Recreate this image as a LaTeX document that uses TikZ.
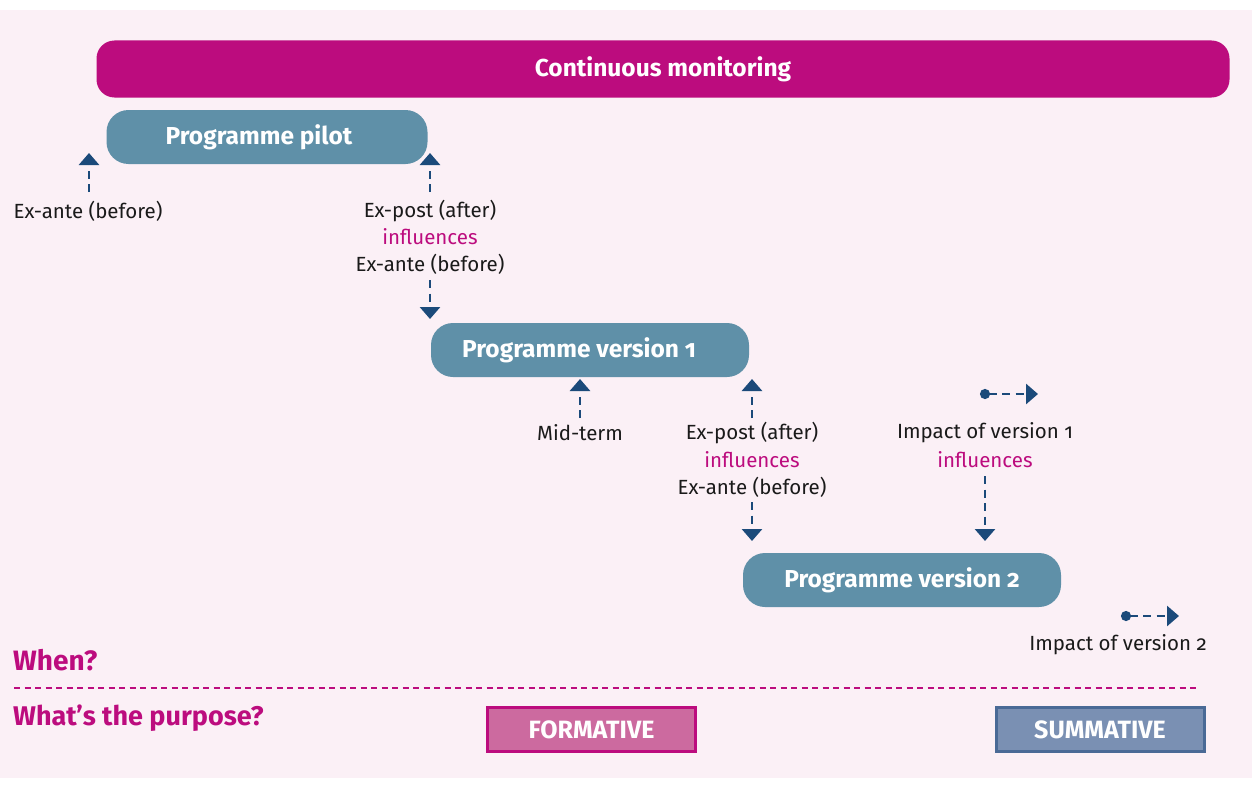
\documentclass[tikz,border=0pt]{standalone}
\usepackage{fontspec}
\setmainfont{Fira Sans}[Numbers=OldStyle]
\usetikzlibrary{arrows.meta}

\definecolor{magentabar}{HTML}{BC0C7E}
\definecolor{tealbox}{HTML}{5F90A8}
\definecolor{arrowblue}{HTML}{1B4A7A}
\definecolor{bgpink}{HTML}{FBF0F6}
\definecolor{formfill}{HTML}{CC6A9F}
\definecolor{sumfill}{HTML}{7A90B3}
\definecolor{sumline}{HTML}{4A6A96}
\definecolor{textgrey}{HTML}{1A1A1A}

\tikzset{
  monitor/.style={fill=magentabar, rounded corners=18pt, text=white,
    font=\fontsize{24.5}{28}\selectfont\bfseries, minimum width=1133pt, minimum height=57pt},
  prog/.style={fill=tealbox, rounded corners=22pt, text=white,
    font=\fontsize{24.5}{28}\selectfont\bfseries, minimum width=318pt, minimum height=54pt},
  lbl/.style={font=\fontsize{20.5}{24}\selectfont, text=textgrey, inner sep=0pt},
  infl/.style={lbl, text=magentabar},
  evarrow/.style={draw=arrowblue, line width=2.8pt, dash pattern=on 8pt off 5.5pt,
    -{Triangle[width=20pt,length=12pt]}},
  impact/.style={evarrow, {Circle[length=10pt]}-{Triangle[width=20pt,length=12pt]}},
  question/.style={anchor=west, inner sep=0pt, text=magentabar,
    font=\fontsize{28}{32}\selectfont\bfseries},
  purpose/.style={line width=3pt, text=white, minimum width=208pt, minimum height=44pt,
    font=\fontsize{25}{28}\selectfont\bfseries}
}

\begin{document}
\begin{tikzpicture}[x=1pt, y=-1pt]
  \useasboundingbox (0,0) rectangle (1252,784);
  \fill[white] (0,0) rectangle (1252,784);
  \fill[bgpink] (0,10) rectangle (1252,778);

  % bars
  \node[monitor] (mon) at (663,69) {Continuous monitoring};
  \node[prog, minimum width=321pt] (pilot) at (267,137) {\hspace*{-16pt}Programme pilot};
  \node[prog] (v1) at (590,350) {\hspace*{-22pt}Programme version 1};
  \node[prog] (v2) at (902,580) {Programme version 2};

  % labels
  \node[lbl] (ante0) at (88,211) {Ex-ante (before)};
  \node[lbl] (post1) at (430,211) {Ex-post (after)};
  \node[infl] (inf1) at (430,237) {influences};
  \node[lbl] (ante1) at (430,264) {Ex-ante (before)};
  \node[lbl] (mid) at (580,433) {Mid-term};
  \node[lbl] (post2) at (752,433) {Ex-post (after)};
  \node[infl] (inf2) at (752,460) {influences};
  \node[lbl] (ante2) at (752,487) {Ex-ante (before)};
  \node[lbl] (imp1) at (985,433) {Impact of version 1};
  \node[infl] (inf3) at (985,460) {influences};
  \node[lbl] (imp2) at (1118,645) {Impact of version 2};

  % arrow ends
  \coordinate (a0) at (89,192);   \coordinate (t0) at (89,153);
  \coordinate (a1) at (430,192);  \coordinate (t1) at (430,153);
  \coordinate (a2) at (430,280);  \coordinate (t2) at (430,319);
  \coordinate (a3) at (580,418);  \coordinate (t3) at (580,379);
  \coordinate (a4) at (752,418);  \coordinate (t4) at (752,379);
  \coordinate (a5) at (752,502);  \coordinate (t5) at (752,541);
  \coordinate (a6) at (985,476);  \coordinate (t6) at (985,541);
  \coordinate (i1) at (980,394);  \coordinate (j1) at (1038,394);
  \coordinate (i2) at (1121,616); \coordinate (j2) at (1179,616);

  \draw[evarrow] (a0) -- (t0);
  \draw[evarrow] (a1) -- (t1);
  \draw[evarrow] (a2) -- (t2);
  \draw[evarrow] (a3) -- (t3);
  \draw[evarrow] (a4) -- (t4);
  \draw[evarrow] (a5) -- (t5);
  \draw[evarrow] (a6) -- (t6);
  \draw[impact] (i1) -- (j1);
  \draw[impact] (i2) -- (j2);

  % bottom rows
  \node[question] (when) at (13,660) {When?};
  \node[question, font=\fontsize{27}{32}\selectfont\bfseries] (why) at (13,718) {What’s the purpose?};
  \coordinate (l0) at (14,688); \coordinate (l1) at (1200,688);
  \draw[magentabar, line width=1.6pt, dash pattern=on 6pt off 4.5pt] (l0) -- (l1);

  \node[purpose, draw=magentabar, fill=formfill] (form) at (591.5,729.5) {FORMATIVE};
  \node[purpose, draw=sumline, fill=sumfill] (summ) at (1100,729.5) {SUMMATIVE};
\end{tikzpicture}
\end{document}
